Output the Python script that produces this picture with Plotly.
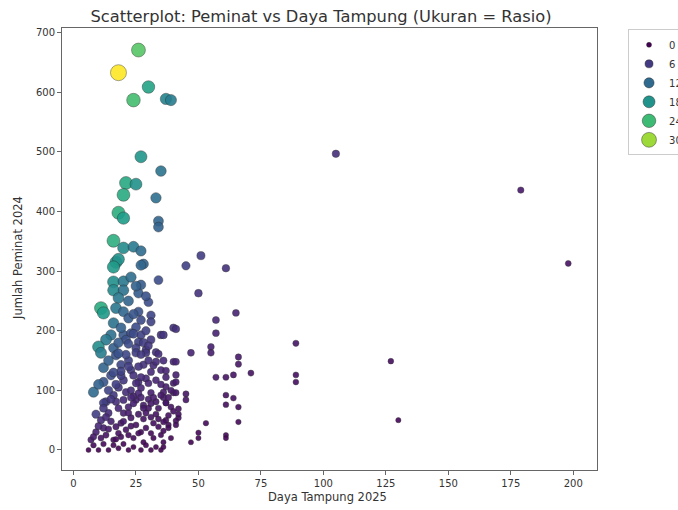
import plotly.graph_objects as go
from plotly.colors import sample_colorscale
import numpy as np

# Daya Tampung 2025 (x) and Jumlah Peminat 2024 (y)
daya_tampung = [
    26, 18, 30, 24, 37, 39, 27, 35,
    21, 25, 20, 33, 18, 20, 34, 34,
    16, 20, 24, 27, 17, 18, 28,
    16, 27, 34, 16, 20, 27, 16, 20, 26, 18, 30,
    11, 12, 17, 20, 26, 31, 22, 27, 16, 31, 25, 40,
    15, 20, 23, 27, 35, 13, 21, 26, 31, 10, 16, 25, 29, 33,
    11, 17, 25, 29, 34, 40, 12, 19, 23, 28, 31, 35,
    12, 20, 26, 33, 40, 8, 21, 27, 31, 36, 40,
    13, 20, 25, 28, 33, 37, 30,
    12, 17, 28, 34, 39, 14, 20, 23, 31, 37, 42,
    9, 12, 17, 21, 25, 29, 34, 38,
    7, 11, 16, 19, 24, 28, 32, 36,
    6, 10, 14, 18, 22, 27, 31, 35,
    51, 45, 61, 50, 65, 57, 41, 57, 36, 89, 47, 55, 55, 41, 66, 66,
    37, 41, 41, 57, 61, 64, 71, 89, 89, 37, 41, 45, 45, 61, 64, 37,
    42, 61, 66, 42, 36, 41, 53, 66, 38, 41, 50, 50, 47, 61, 61, 36,
    105, 179, 198, 127, 130,
    23, 25, 29, 22, 24, 29, 19, 22, 18, 27, 14, 22, 30, 26, 15, 24,
    29, 18, 23, 35, 16, 24, 30, 9, 11, 15, 19, 23, 27, 31, 35, 8,
    12, 16, 20, 24, 29, 33, 13, 18, 22, 26, 33, 39, 36, 18, 22, 10,
    14, 27, 32, 19,
    8, 10, 13, 15, 17, 19, 22, 24, 26, 28, 30, 32, 34, 36, 38, 12,
    14, 17, 20, 23, 26, 29, 32, 35, 37, 39, 28, 30, 24, 21, 18, 33,
    36, 25, 27, 31, 38, 40, 16, 22,
]
peminat = [
    671, 633, 609, 587, 589, 587, 492, 468,
    448, 446, 428, 423, 398, 389, 384, 374,
    351, 339, 341, 334, 315, 320, 312,
    307, 310, 285, 282, 283, 277, 268, 268, 263, 255, 248,
    238, 230, 238, 232, 232, 226, 221, 218, 213, 215, 206, 205,
    193, 193, 196, 193, 193, 185, 185, 181, 185, 173, 171, 171, 168, 164,
    163, 159, 163, 163, 161, 148, 138, 143, 134, 143, 131, 134,
    114, 117, 114, 117, 112, 97, 97, 104, 96, 97, 96,
    81, 84, 84, 75, 81, 79, 70,
    79, 81, 70, 70, 72, 62, 62, 54, 55, 50, 54,
    30, 37, 39, 34, 42, 37, 39, 42,
    17, 20, 17, 22, 20, 13, 20, 13,
    0, 0, 0, 3, 0, 0, 0, 0,
    326, 309, 305, 263, 230, 218, 203, 196, 193, 179, 163, 173, 163, 148, 156, 144,
    133, 126, 114, 122, 122, 126, 129, 126, 114, 106, 96, 94, 84, 92, 87, 79,
    69, 76, 72, 60, 47, 49, 45, 47, 37, 42, 29, 20, 13, 25, 20, 5,
    497, 436, 313, 149, 50,
    290, 275, 258, 250, 228, 200, 205, 178, 180, 160, 150, 150, 150, 140, 125, 125,
    120, 105, 100, 110, 92, 90, 85, 60, 50, 48, 45, 40, 30, 28, 25, 8,
    10, 8, 10, 5, 8, 5, 25, 28, 25, 60, 60, 20, 88, 70, 72, 110,
    100, 122, 142, 125,
    22, 40, 55, 85, 110, 132, 62, 78, 95, 52, 112, 88, 52, 32, 58, 70,
    35, 18, 48, 88, 28, 62, 45, 92, 122, 100, 180, 175, 195, 160, 162, 148,
    150, 112, 88, 78, 88, 65, 130, 140,
]

legend_levels = [0, 6, 12, 18, 24, 30]
legend_labels = ["0", "6", "12", "18", "24", "30"]

x = np.array(daya_tampung, dtype=float)
y = np.array(peminat, dtype=float)
rasio = y / x
rmin, rmax = float(rasio.min()), float(rasio.max())

DMIN, DMAX = 5.0, 16.0


def diam(r):
    t = (np.asarray(r, dtype=float) - rmin) / (rmax - rmin)
    return np.sqrt(DMIN ** 2 + t * (DMAX ** 2 - DMIN ** 2))


fig = go.Figure()
fig.add_trace(go.Scatter(
    x=x, y=y, mode="markers", showlegend=False,
    marker=dict(
        size=diam(rasio), color=rasio, colorscale="Viridis",
        cmin=rmin, cmax=rmax, opacity=0.9,
        line=dict(color="rgba(40,40,40,0.55)", width=0.8),
    ),
    hovertemplate="Daya Tampung: %{x}<br>Peminat: %{y}<extra></extra>",
))

for lv, lab in zip(legend_levels, legend_labels):
    t = (lv - rmin) / (rmax - rmin)
    col = sample_colorscale("Viridis", [min(max(t, 0), 1)])[0]
    fig.add_trace(go.Scatter(
        x=[None], y=[None], mode="markers", name=lab,
        marker=dict(size=float(diam(lv)), color=col,
                    line=dict(color="rgba(40,40,40,0.55)", width=0.8)),
    ))

font = "DejaVu Sans"
L, R, T, B = 62, 81, 28, 40
W, H = 678, 510
pw, ph = W - L - R, H - T - B

fig.update_layout(
    width=W, height=H,
    margin=dict(l=L, r=R, t=T, b=B, autoexpand=False),
    paper_bgcolor="white", plot_bgcolor="white",
    font=dict(family=font, size=10, color="#333"),
    title=dict(text="Scatterplot: Peminat vs Daya Tampung (Ukuran = Rasio)",
               x=321 / W, xanchor="center", y=1 - 16 / H, yanchor="middle",
               font=dict(family=font, size=16.3, color="#333")),
    legend=dict(x=1.058, xanchor="left", y=0.997, yanchor="top",
                bordercolor="#ccc", borderwidth=1, bgcolor="white",
                font=dict(family=font, size=10, color="#333"),
                itemsizing="trace", tracegroupgap=0),
    xaxis=dict(range=[-4.6, 209.5], tickmode="array",
               tickvals=[0, 25, 50, 75, 100, 125, 150, 175, 200],
               showgrid=False, zeroline=False, showline=True, mirror=True,
               linecolor="#666", linewidth=1, ticks="outside", ticklen=4,
               tickcolor="#666"),
    yaxis=dict(range=[-33.6, 708], tickmode="array",
               tickvals=[0, 100, 200, 300, 400, 500, 600, 700],
               showgrid=False, zeroline=False, showline=True, mirror=True,
               linecolor="#666", linewidth=1, ticks="outside", ticklen=4,
               tickcolor="#666"),
    annotations=[
        dict(text="Daya Tampung 2025", xref="paper", yref="paper",
             x=(327 - L) / pw, y=(H - B - 497) / ph, xanchor="center", yanchor="middle",
             showarrow=False, font=dict(family=font, size=11.5, color="#333")),
        dict(text="Jumlah Peminat 2024", xref="paper", yref="paper",
             x=(18 - L) / pw, y=(H - B - 258) / ph, xanchor="center", yanchor="middle",
             textangle=-90, showarrow=False, font=dict(family=font, size=11.5, color="#333")),
    ],
)

fig.write_html("out.html", config={"displayModeBar": False},
               post_script="document.body.style.margin='0';")
